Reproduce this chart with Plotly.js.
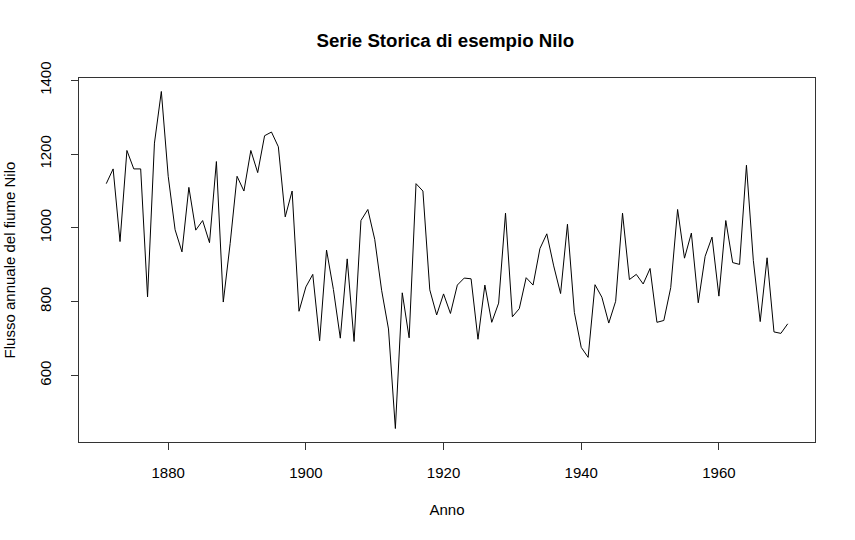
<!DOCTYPE html>
<html>
<head>
<meta charset="utf-8">
<script src="https://cdn.plot.ly/plotly-3.0.1.min.js"></script>
<style>html,body{margin:0;padding:0;background:#fff;}#chart{width:855px;height:540px;}</style>
</head>
<body>
<div id="chart"></div>
<script>
const startYear = 1871;
const flow = [1120,1160,963,1210,1160,1160,813,1230,1370,1140,995,935,1110,994,1020,960,1180,799,958,1140,
1100,1210,1150,1250,1260,1220,1030,1100,774,840,874,694,940,833,701,916,692,1020,1050,969,
831,726,456,824,702,1120,1100,832,764,821,768,845,864,862,698,845,744,796,1040,759,
781,865,845,944,984,897,822,1010,771,676,649,846,812,742,801,1040,860,874,848,890,
744,749,838,1050,918,986,797,923,975,815,1020,906,901,1170,912,746,919,718,714,740];
const years = flow.map((_, i) => startYear + i);
const xTicks = [1880, 1900, 1920, 1940, 1960];
const yTicks = [600, 800, 1000, 1200, 1400];
const titleText = "Serie Storica di esempio Nilo";
const xLabel = "Anno";
const yLabel = "Flusso annuale del fiume Nilo";

const xmin = Math.min(...years), xmax = Math.max(...years);
const ymin = Math.min(...flow), ymax = Math.max(...flow);
const xpad = (xmax - xmin) * 0.04, ypad = (ymax - ymin) * 0.04;

const font = "Liberation Sans, Arial, Helvetica, sans-serif";
const trace = {x: years, y: flow, type: 'scatter', mode: 'lines',
  line: {color: '#000', width: 1}, hoverinfo: 'x+y'};
const layout = {
  width: 855, height: 540,
  margin: {l: 79, r: 40, t: 78, b: 98},
  paper_bgcolor: '#fff', plot_bgcolor: '#fff',
  font: {family: font, size: 15, color: '#000'},
  showlegend: false,
  title: {text: titleText, font: {family: font, size: 18.7, weight: 'bold', color: '#000'},
    x: 0.5208, xanchor: 'center', y: 0.926, yanchor: 'middle'},
  xaxis: {range: [xmin - xpad, xmax + xpad], tickvals: xTicks, ticktext: xTicks.map(String),
    ticks: 'outside', ticklen: 7, tickwidth: 1, tickcolor: '#333',
    showline: true, linecolor: '#333', linewidth: 1, mirror: true,
    showgrid: false, zeroline: false, ticklabelstandoff: 10,
    tickfont: {family: font, size: 15, color: '#000'},
    title: {text: xLabel, font: {family: font, size: 15, color: '#000'}, standoff: 24}},
  yaxis: {range: [ymin - ypad, ymax + ypad], tickvals: yTicks, ticktext: yTicks.map(String),
    ticks: 'outside', ticklen: 7, tickwidth: 1, tickcolor: '#333', tickangle: -90,
    showline: true, linecolor: '#333', linewidth: 1, mirror: true,
    showgrid: false, zeroline: false, ticklabelstandoff: 14,
    tickfont: {family: font, size: 15, color: '#000'},
    title: {text: yLabel, font: {family: font, size: 15, color: '#000'}, standoff: 17}}
};
Plotly.newPlot('chart', [trace], layout, {displayModeBar: false, staticPlot: true});
</script>
</body>
</html>
